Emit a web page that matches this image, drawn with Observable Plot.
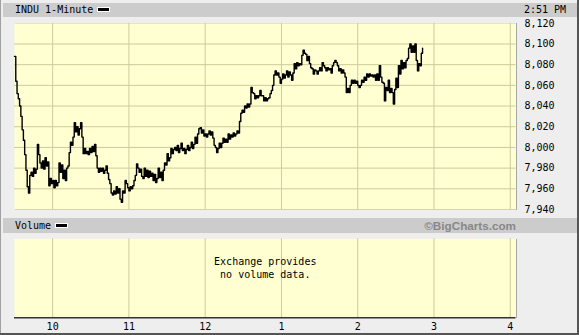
<!DOCTYPE html>
<html><head><meta charset="utf-8">
<script src="https://cdn.jsdelivr.net/npm/d3@7"></script>
<script src="https://cdn.jsdelivr.net/npm/@observablehq/plot@0.6"></script>
<style>
html,body{margin:0;padding:0;background:#fff;}
#chart{position:relative;width:579px;height:335px;background:#eeeeee;overflow:hidden;font-family:"DejaVu Sans Mono",monospace;font-size:10px;color:#000;}
#chart > *{position:absolute;}
.bar{left:3px;width:574px;background:#cccccc;}
.lbl{white-space:pre;line-height:14px;}
.sw{display:inline-block;width:11px;height:3px;background:#000;border:1px solid #fff;vertical-align:middle;margin-left:4px;position:relative;top:-1px;}
.shadow{background:#a8a8a8;}
</style>
</head><body>
<div id="chart"></div>
<script>
// ---- data ----
const symbol = "INDU 1-Minute";
const lastTime = "2:51 PM";
const volumeTitle = "Volume";
const credit = "\u00A9BigCharts.com";
const noVolumeText = ["Exchange provides\nno volume data."];
const sessionOpen = "09:30";
const windowEnd = "16:04:30";
// 1-minute closes from 9:30 onward
const prices = [
8088,8064,8052,8047,8040,8030,8017,8007,7993,7978,
7962,7956,7973,7976,7972,7980,7975,7979,8003,7993,
7985,7980,7987,7979,7990,7982,7986,7963,7970,7965,
7968,7961,7968,7963,7966,7985,7976,7983,7970,7978,
7968,7980,7982,7995,8005,8002,8010,8024,8015,8020,
8012,8018,8024,8010,7994,7999,7994,7996,7993,7999,
7995,8001,7996,8003,7992,7980,7976,7980,7977,7980,
7975,7978,7982,7975,7969,7965,7956,7954,7958,7955,
7962,7956,7960,7950,7947,7958,7956,7968,7965,7961,
7958,7962,7960,7963,7968,7973,7984,7980,7976,7979,
7972,7970,7980,7972,7978,7971,7977,7972,7975,7968,
7974,7966,7970,7980,7971,7976,7968,7978,7985,7983,
7994,7987,7990,7999,7994,7998,8000,7997,8002,7995,
7999,8004,7997,7999,7994,7998,8002,7997,8000,8005,
7999,8003,8010,8004,8013,8018,8019,8014,8017,8011,
8013,8010,8013,8016,8012,8015,8009,8002,8000,7995,
7999,8004,8000,8004,8009,8005,8008,8005,8013,8008,
8012,8010,8014,8011,8013,8016,8014,8025,8033,8036,
8034,8040,8038,8042,8039,8042,8058,8053,8052,8047,
8050,8048,8050,8055,8050,8050,8045,8048,8045,8047,
8048,8052,8055,8060,8070,8074,8070,8072,8068,8062,
8066,8071,8067,8070,8074,8068,8073,8070,8065,8072,
8081,8076,8082,8079,8081,8080,8089,8094,8091,8090,
8084,8088,8081,8077,8076,8071,8075,8074,8071,8074,
8077,8074,8082,8079,8077,8074,8077,8075,8076,8072,
8079,8082,8084,8082,8079,8074,8076,8072,8075,8072,
8068,8053,8057,8053,8060,8065,8062,8065,8062,8064,
8060,8058,8060,8065,8063,8068,8065,8071,8068,8071,
8069,8070,8068,8070,8065,8071,8065,8079,8068,8063,
8062,8045,8058,8055,8065,8053,8057,8053,8042,8056,
8067,8058,8079,8071,8084,8076,8082,8077,8084,8086,
8096,8100,8092,8098,8092,8100,8084,8074,8081,8079,
8091,8096
];
const yTicks = [7940,7960,7980,8000,8020,8040,8060,8080,8100,8120];
const hourTicks = ["10:00","11:00","12:00","13:00","14:00","15:00","16:00"];
const hourLabels = ["10","11","12","1","2","3","4"];

// ---- build ----
const toDate = s => new Date("2002-01-02T" + (s.length === 5 ? s + ":00" : s) + "Z");
const t0 = toDate(sessionOpen);
const series = prices.map((p, i) => ({t: new Date(t0.getTime() + i * 60000), p}));
const hourDates = hourTicks.map(toDate);
const xDomain = [t0, toDate(windowEnd)];
const gridColor = "#cccc99";
const panelFill = "#ffffd2";
const style = {background: "transparent", fontFamily: "'DejaVu Sans Mono', monospace", fontSize: "10px", color: "#000", overflow: "visible"};

const chart = document.getElementById("chart");
function add(html){ chart.insertAdjacentHTML("beforeend", html); }

// frame decorations
add('<div style="left:0;top:0;width:1px;height:335px;background:#a0a0a0"></div>');
add('<div style="left:577px;top:0;width:2px;height:335px;background:#555"></div>');
add('<div style="left:0;top:333px;width:579px;height:2px;background:#555"></div>');
add('<div class="bar" style="top:3px;height:14px"></div>');
add('<div class="bar" style="top:218px;height:15px"></div>');
add('<div class="lbl" style="left:15px;top:3px">' + symbol + '<span class="sw"></span></div>');
add('<div class="lbl" style="left:524px;top:3px">' + lastTime + '</div>');
add('<div class="lbl" style="left:15px;top:219px">' + volumeTitle + '<span class="sw"></span></div>');
add('<div style="left:0;top:219px;width:516px;text-align:right;line-height:14px;font:bold 11.7px \'Liberation Sans\',Arial,sans-serif;color:#888">' + credit + '</div>');
add('<div class="shadow" style="left:15px;top:23px;width:501.5px;height:187px"></div>');
add('<div class="shadow" style="left:15px;top:239px;width:501.5px;height:79px"></div>');

const topPlot = Plot.plot({
  width: 579, height: 212,
  marginLeft: 14, marginRight: 63.5, marginTop: 22.8, marginBottom: 3,
  style,
  x: {type: "utc", domain: xDomain, axis: null},
  y: {domain: [yTicks[0], yTicks[yTicks.length - 1]], axis: null},
  marks: [
    Plot.frame({fill: panelFill, stroke: "none"}),
    Plot.gridY(yTicks.slice(1, -1), {stroke: gridColor, strokeOpacity: 1}),
    Plot.gridX(hourDates, {stroke: gridColor, strokeOpacity: 1}),
    Plot.line(series, {x: "t", y: "p", stroke: "#000", strokeWidth: 1.4, curve: "step-after"}),
    Plot.axisY(yTicks, {anchor: "right", tickSize: 0, tickPadding: 8.5, tickFormat: d3.format(","), label: null, textAnchor: "start"})
  ]
});
topPlot.style.left = "0px"; topPlot.style.top = "0px";
chart.appendChild(topPlot);

const labelOf = d => hourLabels[hourDates.findIndex(h => +h === +d)];
const volPlot = Plot.plot({
  width: 579, height: 105,
  marginLeft: 14, marginRight: 63.5, marginTop: 8.3, marginBottom: 17.7,
  style,
  x: {type: "utc", domain: xDomain},
  y: {domain: [0, 1], axis: null},
  marks: [
    Plot.frame({fill: panelFill, stroke: "none"}),
    Plot.gridX(hourDates, {stroke: gridColor, strokeOpacity: 1}),
    Plot.ruleY([0], {stroke: "#333", strokeWidth: 1.5}),
    Plot.text(noVolumeText, {frameAnchor: "top", dy: 17, lineAnchor: "top", lineHeight: 1.3, fontSize: 10}),
    Plot.axisX(hourDates, {tickSize: 0, tickPadding: 5, tickFormat: labelOf, label: null})
  ]
});
volPlot.style.left = "0px"; volPlot.style.top = "230px";
chart.appendChild(volPlot);
</script>
</body></html>
